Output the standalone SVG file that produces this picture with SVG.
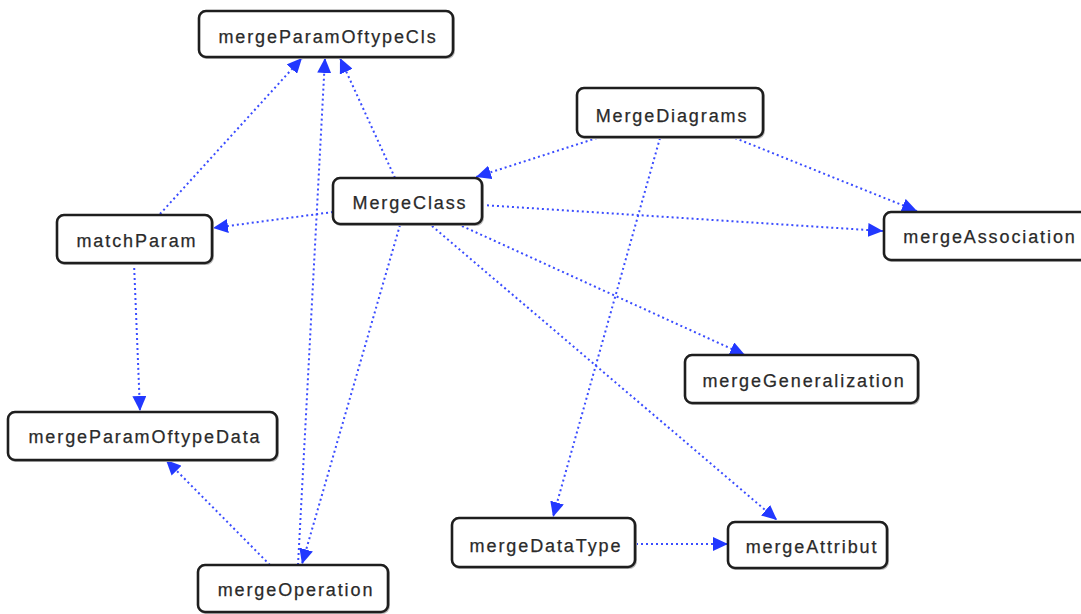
<svg xmlns="http://www.w3.org/2000/svg" width="1081" height="614" viewBox="0 0 1081 614">
  <style>
    .box { fill: #ffffff; stroke: #1e1e1e; stroke-width: 2.6; }
    .shadow { fill: none; stroke: #b8b8b8; stroke-width: 2; }
    .label { font-family: "Liberation Sans", Arial, sans-serif; font-size: 18px; fill: #2a2a2a; stroke: #2a2a2a; stroke-width: 0.25; letter-spacing: 1.9px; text-anchor: middle; }
    .edge { fill: none; stroke: #3a4cff; stroke-width: 2; stroke-dasharray: 2 3; }
  </style>
  <defs>
    <marker id="arrow" markerUnits="userSpaceOnUse" markerWidth="16" markerHeight="14" refX="15" refY="7" orient="auto">
      <path d="M0,0 L15,7 L0,14 Z" fill="#2238ff"/>
    </marker>
  </defs>
  <rect width="1081" height="614" fill="#ffffff"/>

  <!-- connectors -->
  <g id="connectors">
    <line class="edge" x1="160" y1="214" x2="302" y2="58" marker-end="url(#arrow)"/>
    <line class="edge" x1="395" y1="178" x2="340" y2="58" marker-end="url(#arrow)"/>
    <line class="edge" x1="298" y1="565" x2="325" y2="58" marker-end="url(#arrow)"/>
    <line class="edge" x1="400" y1="225" x2="302" y2="564" marker-end="url(#arrow)"/>
    <line class="edge" x1="134" y1="263" x2="140" y2="411" marker-end="url(#arrow)"/>
    <line class="edge" x1="270" y1="565" x2="166" y2="460" marker-end="url(#arrow)"/>
    <line class="edge" x1="333" y1="212" x2="213" y2="228" marker-end="url(#arrow)"/>
    <line class="edge" x1="597" y1="138" x2="476" y2="177" marker-end="url(#arrow)"/>
    <line class="edge" x1="735" y1="138" x2="917" y2="211" marker-end="url(#arrow)"/>
    <line class="edge" x1="660" y1="138" x2="553" y2="517" marker-end="url(#arrow)"/>
    <line class="edge" x1="482" y1="205" x2="883" y2="231" marker-end="url(#arrow)"/>
    <line class="edge" x1="462" y1="226" x2="745" y2="355" marker-end="url(#arrow)"/>
    <line class="edge" x1="432" y1="226" x2="777" y2="520" marker-end="url(#arrow)"/>
    <line class="edge" x1="636" y1="544" x2="728" y2="544" marker-end="url(#arrow)"/>
  </g>

  <!-- nodes -->
  <g id="mergeParamOftypeCls">
    <rect class="shadow" x="200" y="12" width="254" height="46" rx="7"/>
    <rect class="box" x="199" y="11" width="254" height="46" rx="7"/>
    <text class="label" x="328" y="43">mergeParamOftypeCls</text>
  </g>
  <g id="MergeDiagrams">
    <rect class="shadow" x="578" y="89" width="186" height="49" rx="7"/>
    <rect class="box" x="577" y="88" width="186" height="49" rx="7"/>
    <text class="label" x="672" y="122">MergeDiagrams</text>
  </g>
  <g id="MergeClass">
    <rect class="shadow" x="334" y="179" width="149" height="46" rx="7"/>
    <rect class="box" x="333" y="178" width="149" height="46" rx="7"/>
    <text class="label" x="410" y="209">MergeClass</text>
  </g>
  <g id="matchParam">
    <rect class="shadow" x="58" y="216" width="155" height="48" rx="7"/>
    <rect class="box" x="57" y="215" width="155" height="48" rx="7"/>
    <text class="label" x="137" y="247">matchParam</text>
  </g>
  <g id="mergeAssociation">
    <rect class="shadow" x="885" y="213" width="220" height="48" rx="7"/>
    <rect class="box" x="884" y="212" width="220" height="48" rx="7"/>
    <text class="label" x="990" y="243">mergeAssociation</text>
  </g>
  <g id="mergeGeneralization">
    <rect class="shadow" x="686" y="356" width="233" height="48" rx="7"/>
    <rect class="box" x="685" y="355" width="233" height="48" rx="7"/>
    <text class="label" x="804" y="387">mergeGeneralization</text>
  </g>
  <g id="mergeParamOftypeData">
    <rect class="shadow" x="9" y="413" width="269" height="48" rx="7"/>
    <rect class="box" x="8" y="412" width="269" height="48" rx="7"/>
    <text class="label" x="145" y="443">mergeParamOftypeData</text>
  </g>
  <g id="mergeDataType">
    <rect class="shadow" x="453" y="519" width="183" height="49" rx="7"/>
    <rect class="box" x="452" y="518" width="183" height="49" rx="7"/>
    <text class="label" x="546" y="552">mergeDataType</text>
  </g>
  <g id="mergeAttribut">
    <rect class="shadow" x="729" y="523" width="159" height="46" rx="7"/>
    <rect class="box" x="728" y="522" width="159" height="46" rx="7"/>
    <text class="label" x="812" y="553">mergeAttribut</text>
  </g>
  <g id="mergeOperation">
    <rect class="shadow" x="199" y="566" width="190" height="47" rx="7"/>
    <rect class="box" x="198" y="565" width="190" height="47" rx="7"/>
    <text class="label" x="296" y="596">mergeOperation</text>
  </g>
</svg>
